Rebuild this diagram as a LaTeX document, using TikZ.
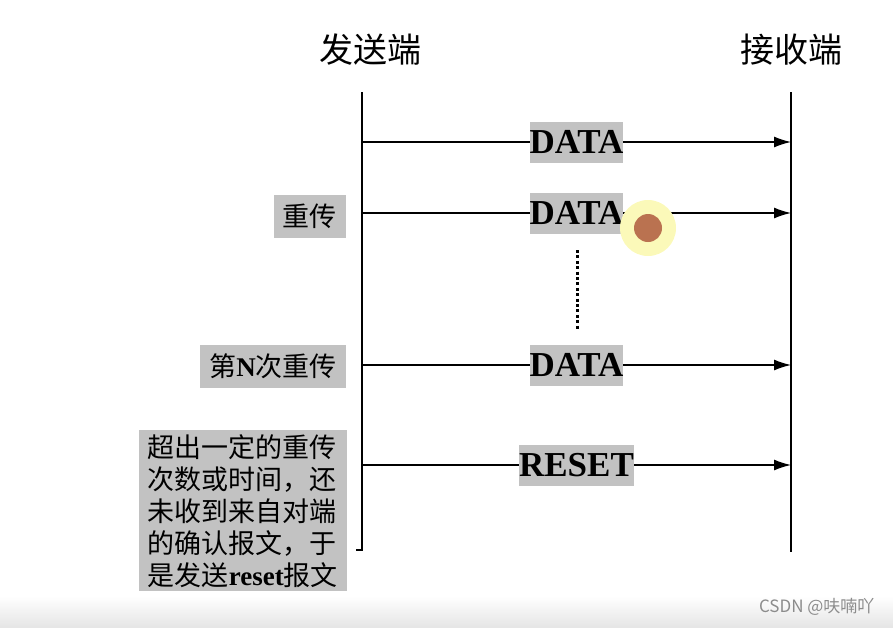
\documentclass[tikz,border=0pt]{standalone}
\usepackage{fontspec}
\setmainfont{Liberation Serif}
\newfontfamily\cjk{Noto Sans CJK SC}
\usepackage{xcolor}
\usepackage{tikz}
\usetikzlibrary{arrows.meta}
\definecolor{boxgray}{RGB}{194,194,194}
\definecolor{halo}{RGB}{251,249,185}
\definecolor{dotbrown}{RGB}{186,114,80}
\newcommand{\bfrm}[1]{{\rmfamily\bfseries #1}}

\begin{document}
\begin{tikzpicture}[
  x=1pt,y=-1pt,
  endlabel/.style={font=\cjk\fontsize{34}{34}\selectfont,inner sep=0pt},
  note/.style={fill=boxgray,font=\cjk\fontsize{27}{32}\selectfont,inner xsep=9pt,inner ysep=4pt,minimum height=43pt,align=left},
  msg/.style={fill=boxgray,font=\bfseries\fontsize{35}{35}\selectfont,inner xsep=0pt,inner ysep=0pt,text height=23pt,text depth=0pt,minimum height=41pt},
  life/.style={line width=1.4pt},
  arr/.style={-{Latex[length=17pt,width=11pt]},line width=1.4pt}
]
\useasboundingbox (0,0) rectangle (893,627);
\shade[top color=white,bottom color=black!10] (0,596) rectangle (893,627);

% the two ends
\node[endlabel] (snd) at (370,50) {发送端};
\node[endlabel] (rcv) at (791,50) {接收端};
\coordinate (sndtop) at (362,92);
\coordinate (sndbot) at (362,550);
\coordinate (sndfoot) at (356,550);
\coordinate (rcvtop) at (791,92);
\coordinate (rcvbot) at (791,552);
\draw[life] (sndtop) -- (sndbot) -- (sndfoot);
\draw[life] (rcvtop) -- (rcvbot);

% messages
\foreach \y/\txt/\nm in {142/DATA/m1,213/DATA/m2,365/DATA/m3,465/RESET/m4}{
  \coordinate (s\nm) at (362,\y);
  \coordinate (r\nm) at (791,\y);
  \draw[arr] (s\nm) -- node[msg] (\nm) {\txt} (r\nm);
}
\coordinate (gap1) at (577,250);
\coordinate (gap2) at (577,330);
\draw[line width=3pt,dash pattern=on 3pt off 2.4pt] (gap1) -- (gap2);

% notes on the sender side
\node[note,anchor=east] (re1) at (346,216) {重传};
\node[note,anchor=east] (reN) at (346,366) {第\bfrm{N}次重传};
\node[note,anchor=north east] (giveup) at (347,430) {超出一定的重传\\次数或时间，还\\未收到来自对端\\的确认报文，于\\是发送\bfrm{reset}报文};

% cursor mark
\fill[halo] (648,228) circle (28pt);
\fill[dotbrown] (648,228) circle (14pt);

\node[font=\cjk\fontsize{17}{17}\selectfont,text=black!45,anchor=east] (mark) at (878,607) {CSDN @呋喃吖};
\end{tikzpicture}
\end{document}
